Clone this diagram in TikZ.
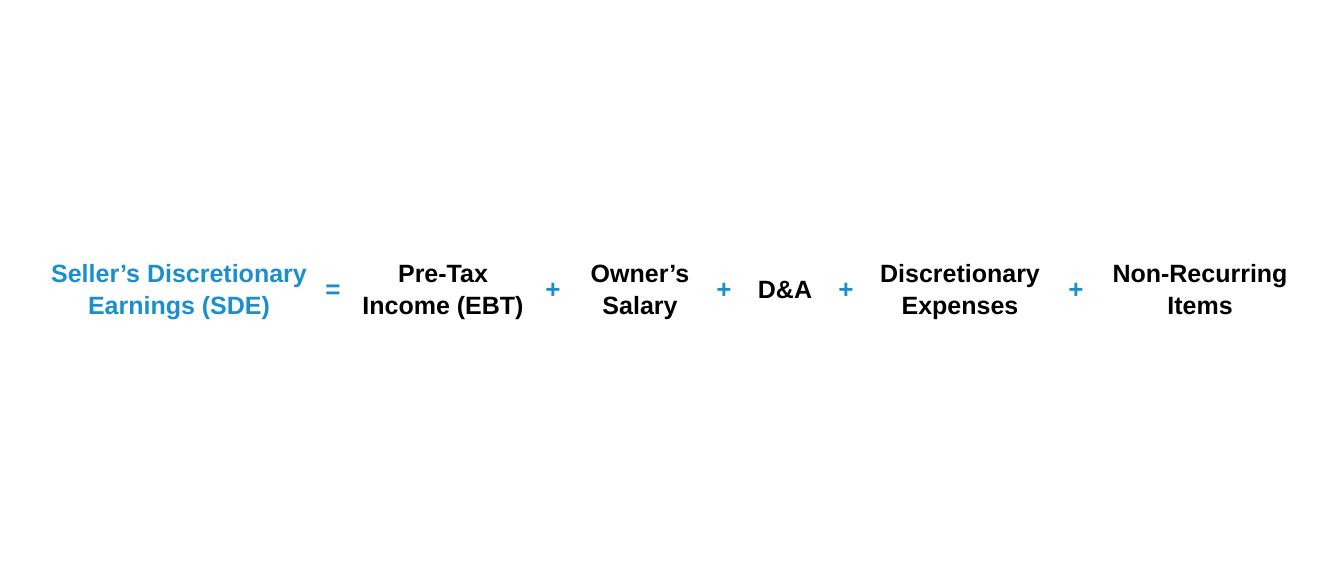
\documentclass[tikz,border=0pt]{standalone}
\usepackage{fontspec}
\setmainfont{Liberation Sans}
\usepackage{tikz}
\usetikzlibrary{calc,positioning}
\definecolor{sdeblue}{HTML}{1A8FCB}

\begin{document}
\begin{tikzpicture}[x=1pt,y=1pt,
    term/.style={align=center,font=\fontsize{25}{32}\selectfont\bfseries,text=black},
    op/.style={font=\fontsize{26}{32}\selectfont\bfseries,text=sdeblue}]
        \useasboundingbox (0,0) rectangle (1344,576);
        \node[term,text=sdeblue] (sde) at (179,284) {\strut Seller’s Discretionary\\\strut Earnings (SDE)};
        \node[op] (eq) at (333,284) {\strut=};
        \node[term] (ebt) at (443,284) {\strut Pre-Tax\\\strut Income (EBT)};
        \node[op] (p1) at (553,284) {\strut+};
        \node[term] (sal) at (640,284) {\strut Owner’s\\\strut Salary};
        \node[op] (p2) at (724,284) {\strut+};
        \node[term] (da) at (785,284) {\strut D\&A};
        \node[op] (p3) at (846,284) {\strut+};
        \node[term] (exp) at (960,284) {\strut Discretionary\\\strut Expenses};
        \node[op] (p4) at (1076,284) {\strut+};
        \node[term] (nri) at (1200,284) {\strut Non-Recurring\\\strut Items};
    \end{tikzpicture}
\end{document}
